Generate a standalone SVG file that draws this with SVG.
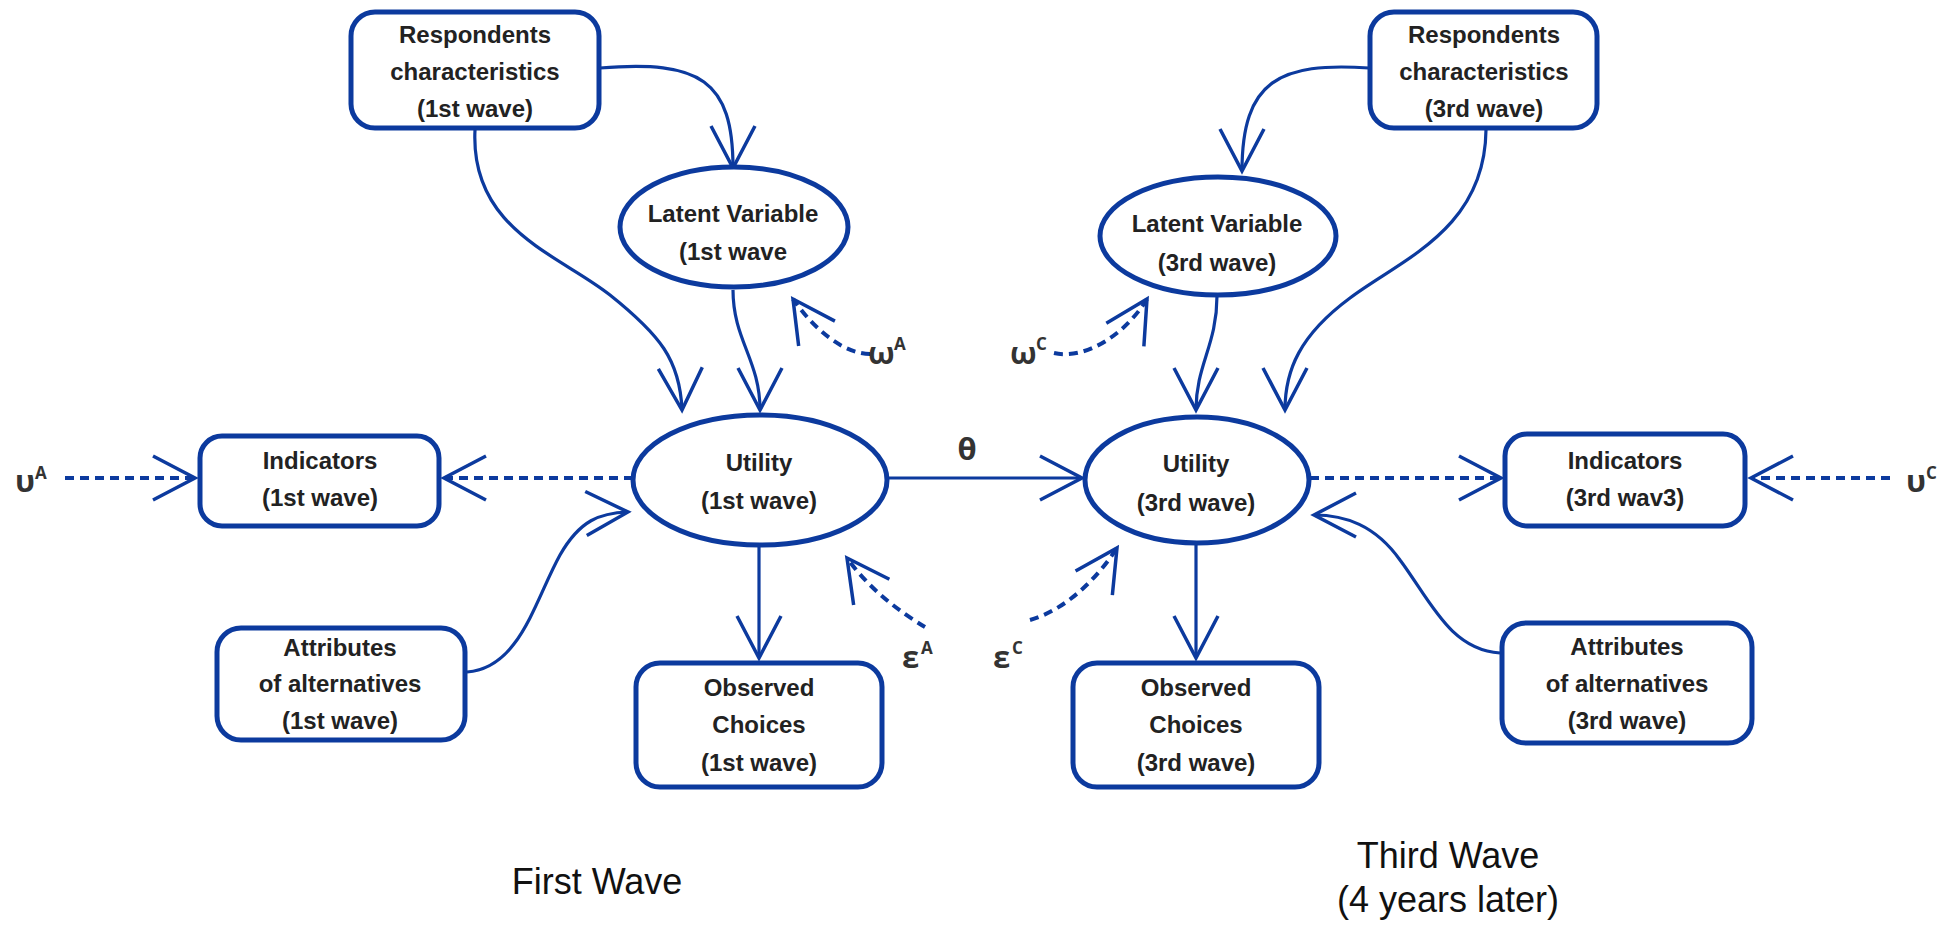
<svg xmlns="http://www.w3.org/2000/svg" width="1946" height="925" viewBox="0 0 1946 925">
<defs>
<style>
.node{fill:#fff;stroke:#0c3a9e;stroke-width:5}
.t{font-family:"Liberation Sans",Arial,sans-serif;font-weight:bold;font-size:24px;fill:#222;text-anchor:middle}
.c{fill:none;stroke:#0c3a9e;stroke-width:3.2}
.d{fill:none;stroke:#0c3a9e;stroke-width:4;stroke-dasharray:9 6}
.g{font-family:"Open Sans","DejaVu Sans",sans-serif;font-weight:bold;fill:#333;font-size:31px}
.s{font-family:"Open Sans","DejaVu Sans",sans-serif;font-weight:bold;fill:#333;font-size:17px}
.big{font-family:"Liberation Sans",Arial,sans-serif;font-size:36px;fill:#111;text-anchor:middle}
</style>
<marker id="ah" viewBox="-46 -26 50 52" refX="0" refY="0" markerUnits="userSpaceOnUse" markerWidth="50" markerHeight="52" orient="auto" overflow="visible">
<path d="M-42,-22 L0,0 L-42,22" fill="none" stroke="#0c3a9e" stroke-width="3.5"/>
</marker>
</defs>
<rect width="1946" height="925" fill="#fff"/>

<g id="connectors">
<path class="c" d="M600,68 C700,60 733,80 733,168" marker-end="url(#ah)"/>
<path class="c" d="M475,130 C470,230 560,255 610,295 C660,335 680,360 682,410" marker-end="url(#ah)"/>
<path class="c" d="M733,290 C733,340 760,360 760,410" marker-end="url(#ah)"/>
<path class="d" d="M870,354 C845,354 815,331 793,299" marker-end="url(#ah)"/>
<path class="d" d="M925,627 C900,612 870,590 847,558" marker-end="url(#ah)"/>
<path class="d" d="M1030,620 C1065,610 1096,580 1117,548" marker-end="url(#ah)"/>
<path class="d" d="M1054,353 C1085,360 1125,335 1147,299" marker-end="url(#ah)"/>
<path class="c" d="M889,478 L1082,478" marker-end="url(#ah)"/>
<path class="d" d="M633,478 L444,478" marker-end="url(#ah)"/>
<path class="d" d="M65,478 L195,478" marker-end="url(#ah)"/>
<path class="d" d="M1310,478 L1501,478" marker-end="url(#ah)"/>
<path class="d" d="M1890,478 L1751,478" marker-end="url(#ah)"/>
<path class="c" d="M467,672 C520,668 535,600 560,555 C580,520 600,513 628,512" marker-end="url(#ah)"/>
<path class="c" d="M1500,653 C1450,650 1430,600 1400,560 C1375,525 1345,515 1314,515" marker-end="url(#ah)"/>
<path class="c" d="M1369,68 C1280,62 1242,80 1242,171" marker-end="url(#ah)"/>
<path class="c" d="M1486,130 C1485,230 1400,260 1350,298 C1300,335 1285,370 1285,410" marker-end="url(#ah)"/>
<path class="c" d="M1217,296 C1217,345 1196,365 1196,410" marker-end="url(#ah)"/>
<path class="c" d="M759,546 L759,658" marker-end="url(#ah)"/>
<path class="c" d="M1196,544 L1196,658" marker-end="url(#ah)"/>
</g>

<g id="resp1">
<rect class="node" x="351" y="12" width="248" height="116" rx="24"/>
<text class="t" x="475" y="43">Respondents</text>
<text class="t" x="475" y="80">characteristics</text>
<text class="t" x="475" y="117">(1st wave)</text>
</g>
<g id="latent1">
<ellipse class="node" cx="734" cy="227" rx="114" ry="60"/>
<text class="t" x="733" y="222">Latent Variable</text>
<text class="t" x="733" y="260">(1st wave</text>
</g>
<g id="utility1">
<ellipse class="node" cx="760" cy="480" rx="127" ry="65"/>
<text class="t" x="759" y="471">Utility</text>
<text class="t" x="759" y="509">(1st wave)</text>
</g>
<g id="indicators1">
<rect class="node" x="200" y="436" width="239" height="90" rx="22"/>
<text class="t" x="320" y="469">Indicators</text>
<text class="t" x="320" y="506">(1st wave)</text>
</g>
<g id="attributes1">
<rect class="node" x="217" y="628" width="248" height="112" rx="24"/>
<text class="t" x="340" y="656">Attributes</text>
<text class="t" x="340" y="692">of alternatives</text>
<text class="t" x="340" y="729">(1st wave)</text>
</g>
<g id="observed1">
<rect class="node" x="636" y="663" width="246" height="124" rx="24"/>
<text class="t" x="759" y="696">Observed</text>
<text class="t" x="759" y="733">Choices</text>
<text class="t" x="759" y="771">(1st wave)</text>
</g>

<g id="resp3">
<rect class="node" x="1370" y="12" width="227" height="116" rx="24"/>
<text class="t" x="1484" y="43">Respondents</text>
<text class="t" x="1484" y="80">characteristics</text>
<text class="t" x="1484" y="117">(3rd wave)</text>
</g>
<g id="latent3">
<ellipse class="node" cx="1218" cy="236" rx="118" ry="59"/>
<text class="t" x="1217" y="232">Latent Variable</text>
<text class="t" x="1217" y="271">(3rd wave)</text>
</g>
<g id="utility3">
<ellipse class="node" cx="1197" cy="480" rx="112" ry="63"/>
<text class="t" x="1196" y="472">Utility</text>
<text class="t" x="1196" y="511">(3rd wave)</text>
</g>
<g id="indicators3">
<rect class="node" x="1505" y="434" width="240" height="92" rx="22"/>
<text class="t" x="1625" y="469">Indicators</text>
<text class="t" x="1625" y="506">(3rd wav3)</text>
</g>
<g id="attributes3">
<rect class="node" x="1502" y="623" width="250" height="120" rx="24"/>
<text class="t" x="1627" y="655">Attributes</text>
<text class="t" x="1627" y="692">of alternatives</text>
<text class="t" x="1627" y="729">(3rd wave)</text>
</g>
<g id="observed3">
<rect class="node" x="1073" y="663" width="246" height="124" rx="24"/>
<text class="t" x="1196" y="696">Observed</text>
<text class="t" x="1196" y="733">Choices</text>
<text class="t" x="1196" y="771">(3rd wave)</text>
</g>

<g id="labels">
<text class="g" x="15" y="492">υ</text><text class="s" x="35" y="479">A</text>
<text class="g" x="1906" y="492">υ</text><text class="s" x="1926" y="479">C</text>
<text class="g" x="967" y="460" font-size="28" text-anchor="middle">θ</text>
<text class="g" x="868" y="364">ω</text><text class="s" x="894" y="350">A</text>
<text class="g" x="1010" y="364">ω</text><text class="s" x="1036" y="350">C</text>
<text class="g" x="902" y="668">ε</text><text class="s" x="921" y="654">A</text>
<text class="g" x="993" y="668">ε</text><text class="s" x="1012" y="654">C</text>
<text class="big" x="597" y="894">First Wave</text>
<text class="big" x="1448" y="868">Third Wave</text>
<text class="big" x="1448" y="912">(4 years later)</text>
</g>
</svg>
